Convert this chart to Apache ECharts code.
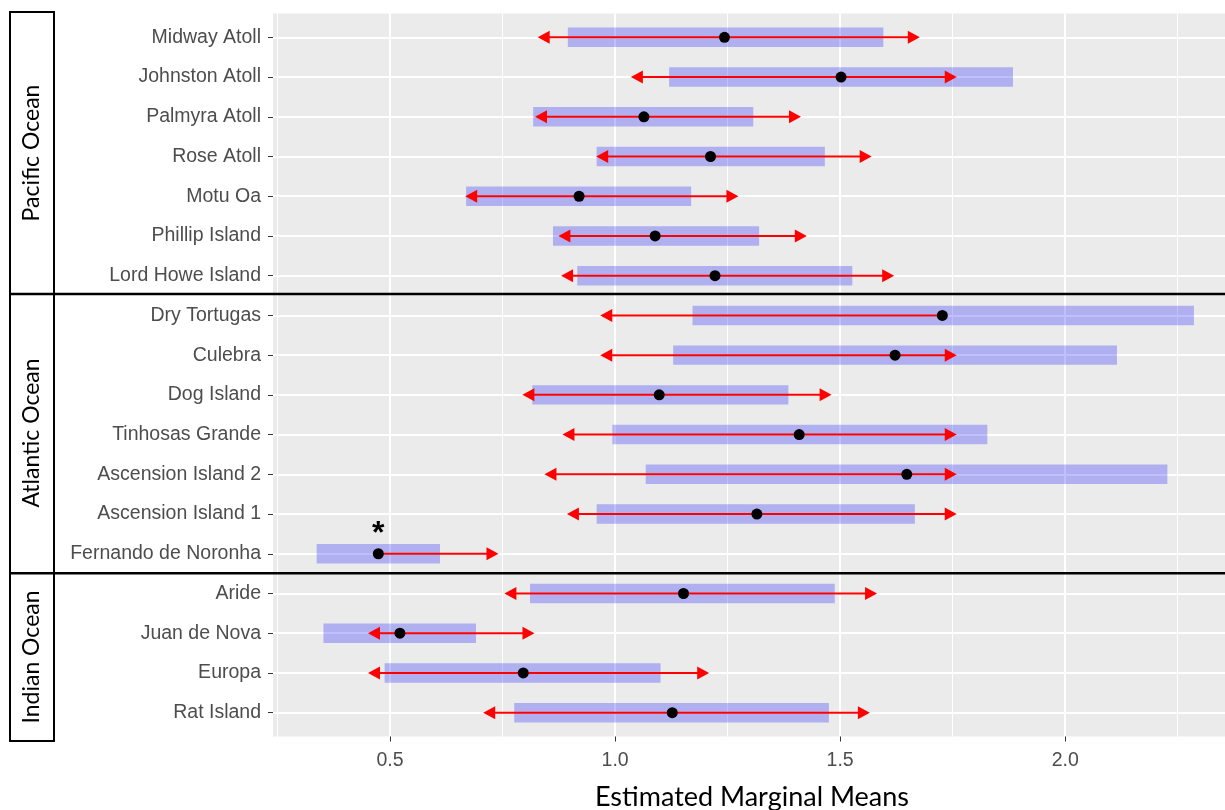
<!DOCTYPE html>
<html>
<head>
<meta charset="utf-8">
<script src="https://cdn.jsdelivr.net/npm/echarts@6/dist/echarts.min.js"></script>
<style>html,body{margin:0;padding:0;background:#fff}#c{width:1225px;height:810px}</style>
</head>
<body>
<div id="c"></div>
<script>
const categories = ['Midway Atoll','Johnston Atoll','Palmyra Atoll','Rose Atoll','Motu Oa','Phillip Island','Lord Howe Island','Dry Tortugas','Culebra','Dog Island','Tinhosas Grande','Ascension Island 2','Ascension Island 1','Fernando de Noronha','Aride','Juan de Nova','Europa','Rat Island'];
const emmean     = [1.243,1.502,1.064,1.212,0.920,1.089,1.222,1.727,1.622,1.098,1.409,1.648,1.315,0.474,1.152,0.522,0.796,1.127];
const ciLower    = [0.895,1.120,0.818,0.959,0.669,0.862,0.916,1.172,1.129,0.816,0.994,1.068,0.959,0.337,0.811,0.352,0.488,0.776];
const ciUpper    = [1.596,1.884,1.307,1.466,1.169,1.320,1.527,2.286,2.115,1.385,1.827,2.227,1.666,0.611,1.488,0.691,1.101,1.475];
const arrowLower = [0.828,1.035,0.822,0.958,0.667,0.874,0.880,0.967,0.967,0.794,0.883,0.843,0.893,null,0.754,0.451,0.451,0.707];
const arrowUpper = [1.677,1.759,1.413,1.570,1.274,1.426,1.620,null,1.759,1.481,1.759,1.759,1.759,0.741,1.582,0.821,1.209,1.566];
const significant = [false,false,false,false,false,false,false,false,false,false,false,false,false,true,false,false,false,false];
const oceanNames = ['Pacific Ocean','Atlantic Ocean','Indian Ocean'];
const xTickLabels = ['0.5','1.0','1.5','2.0'];

const xMin = 0.24, xMax = 2.355;
const panelLeft = 273, panelRight = 1225, panelTop = 13.5, panelBottom = 736.5;
const scale = (panelRight - panelLeft) / (xMax - xMin);
const minorLeft = panelLeft + (0.25 - xMin) * scale;
const majorLeft = panelLeft + (0.5 - xMin) * scale;
const rowStep = (panelBottom - panelTop) / (categories.length - 1 + 1.2);
const rowTop = panelTop + 0.6 * rowStep;
const rowBottom = panelBottom - 0.6 * rowStep;

const chart = echarts.init(document.getElementById('c'), null, {renderer: 'canvas'});
const labelFont = 'Liberation Sans, Arial, sans-serif';

const option = {
  animation: false,
  backgroundColor: '#fff',
  grid: [
    {left: panelLeft, right: 0, top: panelTop, bottom: 810 - panelBottom, show: true, backgroundColor: '#EBEBEB', borderWidth: 0},
    {left: minorLeft, right: 0, top: panelTop, bottom: 810 - panelBottom},
    {left: majorLeft, right: 0, top: panelTop, bottom: 810 - panelBottom},
    {left: panelLeft, right: 0, top: rowTop, bottom: 810 - rowBottom}
  ],
  xAxis: [
    {gridIndex: 0, type: 'value', min: xMin, max: xMax, show: false},
    {gridIndex: 1, type: 'value', min: 0.25, max: xMax, interval: 0.5,
      axisLine: {show: false}, axisTick: {show: false}, axisLabel: {show: false},
      splitLine: {show: true, showMinLine: true, showMaxLine: false, lineStyle: {color: '#FFFFFF', width: 1}}},
    {gridIndex: 2, type: 'value', min: 0.5, max: xMax, interval: 0.5,
      axisLine: {show: false},
      axisTick: {show: true, length: 5, lineStyle: {color: '#333333', width: 1}},
      axisLabel: {show: true, showMaxLabel: false, margin: 14, fontSize: 19.5, color: '#4D4D4D', fontFamily: labelFont,
        formatter: function (v) { const i = Math.round(v / 0.5) - 1; return (Math.abs(v / 0.5 - Math.round(v / 0.5)) < 1e-6 && xTickLabels[i]) ? xTickLabels[i] : ''; }},
      splitLine: {show: true, showMinLine: true, showMaxLine: false, lineStyle: {color: '#FFFFFF', width: 2}}},
    {gridIndex: 3, type: 'value', min: xMin, max: xMax, show: false}
  ],
  yAxis: [
    {gridIndex: 0, type: 'value', show: false},
    {gridIndex: 1, type: 'value', show: false},
    {gridIndex: 2, type: 'value', show: false},
    {gridIndex: 3, type: 'value', min: 0, max: categories.length - 1, interval: 1, inverse: true,
      axisLine: {show: false},
      axisTick: {show: true, length: 5, lineStyle: {color: '#333333', width: 1}},
      axisLabel: {margin: 12, fontSize: 19.5, color: '#4D4D4D', fontFamily: labelFont, padding: [3, 0, 0, 0],
        formatter: function (v) { return categories[Math.round(v)] || ''; }},
      splitLine: {show: true, lineStyle: {color: '#FFFFFF', width: 2}}}
  ],
  series: [
    {
      type: 'custom', xAxisIndex: 3, yAxisIndex: 3, z: 2,
      data: categories.map(function (c, i) { return [i, ciLower[i], ciUpper[i]]; }),
      encode: {x: [1, 2], y: 0},
      renderItem: function (params, api) {
        const y = api.value(0);
        const p1 = api.coord([api.value(1), y]);
        const p2 = api.coord([api.value(2), y]);
        const h = api.size([0, 1])[1] * 0.49;
        return {type: 'rect', shape: {x: p1[0], y: p1[1] - h / 2, width: p2[0] - p1[0], height: h},
          style: {fill: 'rgba(0,0,255,0.25)'}};
      }
    },
    {
      type: 'custom', xAxisIndex: 3, yAxisIndex: 3, z: 3,
      data: categories.map(function (c, i) { return [i, emmean[i]]; }),
      encode: {x: 1, y: 0},
      renderItem: function (params, api) {
        const i = params.dataIndex;
        const y = api.value(0);
        const pm = api.coord([api.value(1), y]);
        const children = [];
        const L = 12, H = 6.5;
        if (arrowLower[i] != null) {
          const pl = api.coord([arrowLower[i], y]);
          children.push({type: 'line', shape: {x1: pm[0], y1: pm[1], x2: pl[0] + 4, y2: pl[1]}, style: {stroke: '#FF0000', lineWidth: 2}});
          children.push({type: 'polygon', shape: {points: [[pl[0], pl[1]], [pl[0] + L, pl[1] - H], [pl[0] + L, pl[1] + H]]}, style: {fill: '#FF0000'}});
        }
        if (arrowUpper[i] != null) {
          const pu = api.coord([arrowUpper[i], y]);
          children.push({type: 'line', shape: {x1: pm[0], y1: pm[1], x2: pu[0] - 4, y2: pu[1]}, style: {stroke: '#FF0000', lineWidth: 2}});
          children.push({type: 'polygon', shape: {points: [[pu[0], pu[1]], [pu[0] - L, pu[1] - H], [pu[0] - L, pu[1] + H]]}, style: {fill: '#FF0000'}});
        }
        return {type: 'group', children: children};
      }
    },
    {
      type: 'scatter', xAxisIndex: 3, yAxisIndex: 3, z: 4,
      symbol: 'circle', symbolSize: 11,
      itemStyle: {color: '#000000', opacity: 1},
      data: emmean.map(function (m, i) {
        return significant[i] ? {value: [m, i], label: {show: true}} : {value: [m, i]};
      }),
      label: {show: false, formatter: '*', position: 'top', distance: -2, fontSize: 32, fontWeight: 'bold',
        color: '#000', fontFamily: labelFont}
    }
  ],
  graphic: [
    {type: 'line', z: 100, shape: {x1: 10, y1: 11.5, x2: 10, y2: 741.5}, style: {stroke: '#000', lineWidth: 2}},
    {type: 'line', z: 100, shape: {x1: 54, y1: 11.5, x2: 54, y2: 741.5}, style: {stroke: '#000', lineWidth: 2}},
    {type: 'line', z: 100, shape: {x1: 9, y1: 12, x2: 55, y2: 12}, style: {stroke: '#000', lineWidth: 2}},
    {type: 'line', z: 100, shape: {x1: 9, y1: 741, x2: 55, y2: 741}, style: {stroke: '#000', lineWidth: 2}},
    {type: 'line', z: 100, shape: {x1: 9, y1: 294, x2: 1225, y2: 294}, style: {stroke: '#000', lineWidth: 2.5}},
    {type: 'line', z: 100, shape: {x1: 9, y1: 573.3, x2: 1225, y2: 573.3}, style: {stroke: '#000', lineWidth: 2.5}},
    {type: 'text', z: 100, x: 32, y: 153, rotation: Math.PI / 2,
      style: {text: oceanNames[0], fontSize: 23, fontFamily: 'Lato, sans-serif', fill: '#000', textAlign: 'center', textVerticalAlign: 'middle'}},
    {type: 'text', z: 100, x: 32, y: 433, rotation: Math.PI / 2,
      style: {text: oceanNames[1], fontSize: 23, fontFamily: 'Lato, sans-serif', fill: '#000', textAlign: 'center', textVerticalAlign: 'middle'}},
    {type: 'text', z: 100, x: 32, y: 657, rotation: Math.PI / 2,
      style: {text: oceanNames[2], fontSize: 23, fontFamily: 'Lato, sans-serif', fill: '#000', textAlign: 'center', textVerticalAlign: 'middle'}},
    {type: 'text', z: 100, x: 752, y: 797,
      style: {text: 'Estimated Marginal Means', fontSize: 27, fontFamily: 'Lato, sans-serif', fill: '#000', textAlign: 'center', textVerticalAlign: 'middle'}}
  ]
};
chart.setOption(option);
</script>
</body>
</html>
